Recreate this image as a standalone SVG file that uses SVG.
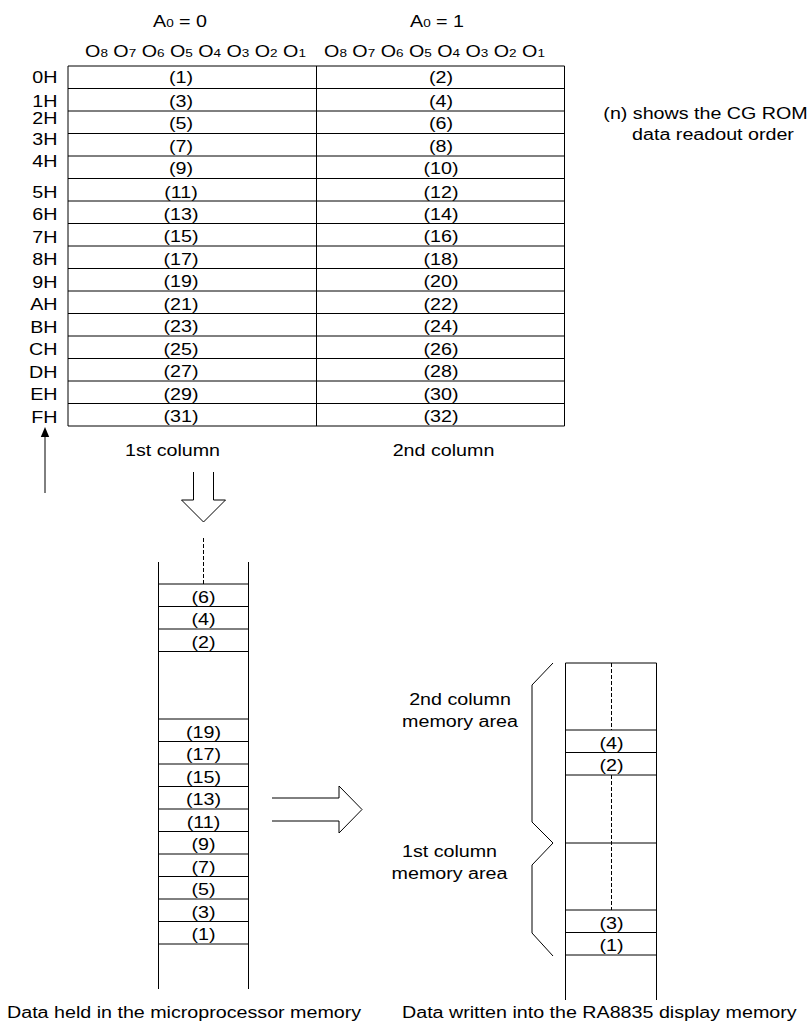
<svg xmlns="http://www.w3.org/2000/svg" width="812" height="1032" viewBox="0 0 812 1032">
<style>
.t{font-family:"Liberation Sans",Arial,sans-serif;font-size:16px;fill:#000}
.m{text-anchor:middle}
.e{text-anchor:end}
.s{font-size:11px}
.ln{stroke:#000;stroke-width:1;fill:none}
.d{stroke-dasharray:4 2}
</style>
<rect width="812" height="1032" fill="#fff"/>

<g id="headers">
<text class="t m" transform="translate(180 27) scale(1.23 1)">A<tspan class="s">0</tspan> = 0</text>
<text class="t m" transform="translate(437 27) scale(1.23 1)">A<tspan class="s">0</tspan> = 1</text>
<text class="t m" transform="translate(195.5 57) scale(1.23 1)">O<tspan class="s">8</tspan> O<tspan class="s">7</tspan> O<tspan class="s">6</tspan> O<tspan class="s">5</tspan> O<tspan class="s">4</tspan> O<tspan class="s">3</tspan> O<tspan class="s">2</tspan> O<tspan class="s">1</tspan></text>
<text class="t m" transform="translate(434.5 57) scale(1.23 1)">O<tspan class="s">8</tspan> O<tspan class="s">7</tspan> O<tspan class="s">6</tspan> O<tspan class="s">5</tspan> O<tspan class="s">4</tspan> O<tspan class="s">3</tspan> O<tspan class="s">2</tspan> O<tspan class="s">1</tspan></text>
</g>

<g id="table">
<path class="ln" d="M68 66V426M316.5 66V426M564.5 66V426
M68 66H564.5M68 88.5H564.5M68 111H564.5M68 133.5H564.5M68 156H564.5M68 178.5H564.5M68 201H564.5M68 223.5H564.5
M68 246H564.5M68 268.5H564.5M68 291H564.5M68 313.5H564.5M68 336H564.5M68 358.5H564.5M68 381H564.5M68 403.5H564.5M68 426H564.5"/>
<g class="t e">
<text transform="translate(57.5 83) scale(1.23 1)">0H</text>
<text transform="translate(57.5 107) scale(1.23 1)">1H</text>
<text transform="translate(57.5 123.5) scale(1.23 1)">2H</text>
<text transform="translate(57.5 145) scale(1.23 1)">3H</text>
<text transform="translate(57.5 167) scale(1.23 1)">4H</text>
<text transform="translate(57.5 198) scale(1.23 1)">5H</text>
<text transform="translate(57.5 220) scale(1.23 1)">6H</text>
<text transform="translate(57.5 243) scale(1.23 1)">7H</text>
<text transform="translate(57.5 265) scale(1.23 1)">8H</text>
<text transform="translate(57.5 288) scale(1.23 1)">9H</text>
<text transform="translate(57.5 310) scale(1.23 1)">AH</text>
<text transform="translate(57.5 333) scale(1.23 1)">BH</text>
<text transform="translate(57.5 355) scale(1.23 1)">CH</text>
<text transform="translate(57.5 378) scale(1.23 1)">DH</text>
<text transform="translate(57.5 400) scale(1.23 1)">EH</text>
<text transform="translate(57.5 423) scale(1.23 1)">FH</text>
</g>
<g class="t m">
<text transform="translate(181 83) scale(1.23 1)">(1)</text>
<text transform="translate(181 107) scale(1.23 1)">(3)</text>
<text transform="translate(181 129) scale(1.23 1)">(5)</text>
<text transform="translate(181 151.5) scale(1.23 1)">(7)</text>
<text transform="translate(181 174) scale(1.23 1)">(9)</text>
<text transform="translate(181 197.5) scale(1.23 1)">(11)</text>
<text transform="translate(181 219.5) scale(1.23 1)">(13)</text>
<text transform="translate(181 242) scale(1.23 1)">(15)</text>
<text transform="translate(181 264.5) scale(1.23 1)">(17)</text>
<text transform="translate(181 287) scale(1.23 1)">(19)</text>
<text transform="translate(181 309.5) scale(1.23 1)">(21)</text>
<text transform="translate(181 332) scale(1.23 1)">(23)</text>
<text transform="translate(181 354.5) scale(1.23 1)">(25)</text>
<text transform="translate(181 377) scale(1.23 1)">(27)</text>
<text transform="translate(181 399.5) scale(1.23 1)">(29)</text>
<text transform="translate(181 422) scale(1.23 1)">(31)</text>
<text transform="translate(441 83) scale(1.23 1)">(2)</text>
<text transform="translate(441 107) scale(1.23 1)">(4)</text>
<text transform="translate(441 129) scale(1.23 1)">(6)</text>
<text transform="translate(441 151.5) scale(1.23 1)">(8)</text>
<text transform="translate(441 174) scale(1.23 1)">(10)</text>
<text transform="translate(441 197.5) scale(1.23 1)">(12)</text>
<text transform="translate(441 219.5) scale(1.23 1)">(14)</text>
<text transform="translate(441 242) scale(1.23 1)">(16)</text>
<text transform="translate(441 264.5) scale(1.23 1)">(18)</text>
<text transform="translate(441 287) scale(1.23 1)">(20)</text>
<text transform="translate(441 309.5) scale(1.23 1)">(22)</text>
<text transform="translate(441 332) scale(1.23 1)">(24)</text>
<text transform="translate(441 354.5) scale(1.23 1)">(26)</text>
<text transform="translate(441 377) scale(1.23 1)">(28)</text>
<text transform="translate(441 399.5) scale(1.23 1)">(30)</text>
<text transform="translate(441 422) scale(1.23 1)">(32)</text>
</g>
<text class="t m" transform="translate(172.5 456) scale(1.23 1)">1st column</text>
<text class="t m" transform="translate(443.5 456) scale(1.23 1)">2nd column</text>
</g>

<g id="note">
<text class="t m" transform="translate(705.5 118.5) scale(1.23 1)">(n) shows the CG ROM</text>
<text class="t m" transform="translate(713 140) scale(1.23 1)">data readout order</text>
</g>

<g id="connectors">
<line class="ln" x1="45" y1="493" x2="45" y2="436"/>
<polygon points="45,427 40.8,437 49.2,437" fill="#000"/>
<path class="ln" d="M193.5 472V500H181.5L203.5 522L225.5 500H213.5V472"/>
<path class="ln" d="M272 798H339V786L362 809.5L339 833V821H272"/>
</g>

<g id="processor-memory">
<path class="ln" d="M158.5 562V989M248.5 562V989"/>
<path class="ln d" d="M203.5 538V584"/>
<path class="ln" d="M158.5 584H248.5M158.5 606.5H248.5M158.5 629H248.5M158.5 651.5H248.5M158.5 719H248.5M158.5 741.5H248.5M158.5 764H248.5M158.5 786.5H248.5M158.5 809H248.5M158.5 831.5H248.5M158.5 854H248.5M158.5 876.5H248.5M158.5 899H248.5M158.5 921.5H248.5M158.5 944H248.5"/>
<g class="t m">
<text transform="translate(203.5 602.5) scale(1.23 1)">(6)</text>
<text transform="translate(203.5 625) scale(1.23 1)">(4)</text>
<text transform="translate(203.5 647.5) scale(1.23 1)">(2)</text>
<text transform="translate(203.5 737.5) scale(1.23 1)">(19)</text>
<text transform="translate(203.5 760) scale(1.23 1)">(17)</text>
<text transform="translate(203.5 782.5) scale(1.23 1)">(15)</text>
<text transform="translate(203.5 805) scale(1.23 1)">(13)</text>
<text transform="translate(203.5 827.5) scale(1.23 1)">(11)</text>
<text transform="translate(203.5 850) scale(1.23 1)">(9)</text>
<text transform="translate(203.5 872.5) scale(1.23 1)">(7)</text>
<text transform="translate(203.5 895) scale(1.23 1)">(5)</text>
<text transform="translate(203.5 917.5) scale(1.23 1)">(3)</text>
<text transform="translate(203.5 940) scale(1.23 1)">(1)</text>
</g>
<text class="t" transform="translate(7 1018) scale(1.23 1)">Data held in the microprocessor memory</text>
</g>

<g id="display-memory">
<path class="ln" d="M565.5 663V1000M656.5 663V1000M565.5 663H656.5"/>
<path class="ln d" d="M611.5 663V730M611.5 775V910"/>
<path class="ln" d="M565.5 730H656.5M565.5 752.5H656.5M565.5 775H656.5M565.5 843H656.5M565.5 910H656.5M565.5 932.5H656.5M565.5 955H656.5"/>
<g class="t m">
<text transform="translate(611.5 748.5) scale(1.23 1)">(4)</text>
<text transform="translate(611.5 771) scale(1.23 1)">(2)</text>
<text transform="translate(611.5 928.5) scale(1.23 1)">(3)</text>
<text transform="translate(611.5 951) scale(1.23 1)">(1)</text>
</g>
<path class="ln" d="M553 663L532 685V822L553 843L532 865V933L553 956"/>
<text class="t m" transform="translate(460 705) scale(1.23 1)">2nd column</text>
<text class="t m" transform="translate(460 727) scale(1.23 1)">memory area</text>
<text class="t m" transform="translate(449.5 857) scale(1.23 1)">1st column</text>
<text class="t m" transform="translate(449.5 879) scale(1.23 1)">memory area</text>
<text class="t" transform="translate(402 1018) scale(1.23 1)">Data written into the RA8835 display memory</text>
</g>
</svg>
